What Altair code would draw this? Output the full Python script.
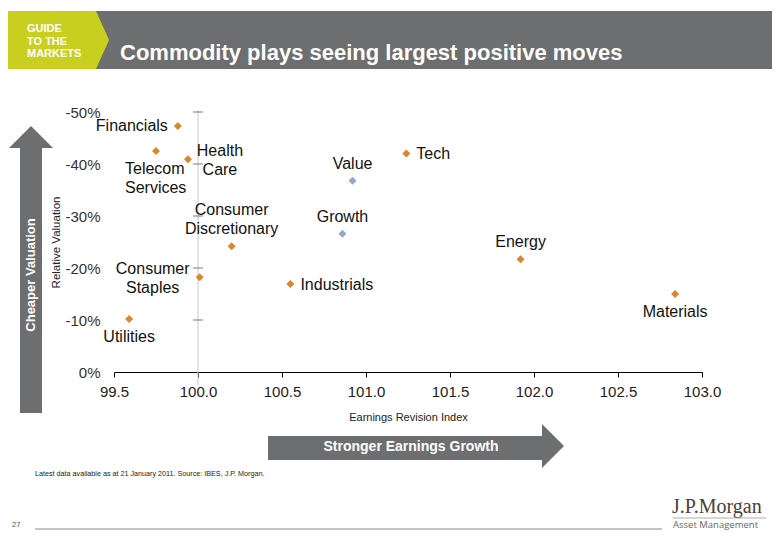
import altair as alt
import pandas as pd

# ---------------- data ----------------
names = ["Financials", "Telecom Services", "Health Care", "Consumer Discretionary",
         "Consumer Staples", "Utilities", "Value", "Growth", "Tech", "Industrials",
         "Energy", "Materials"]
labels = ["Financials", "Telecom\nServices", "Health\nCare", "Consumer\nDiscretionary",
          "Consumer\nStaples", "Utilities", "Value", "Growth", "Tech", "Industrials",
          "Energy", "Materials"]
earnings_revision = [99.88, 99.75, 99.94, 100.20, 100.01, 99.59, 100.92, 100.86,
                     101.24, 100.55, 101.92, 102.84]
relative_valuation = [-47.3, -42.5, -40.9, -24.2, -18.2, -10.2, -36.8, -26.6,
                      -42.0, -16.9, -21.7, -15.0]
groups = ["Sector"] * 6 + ["Style"] * 2 + ["Sector"] * 4
x_ticks = [99.5, 100.0, 100.5, 101.0, 101.5, 102.0, 102.5, 103.0]
y_ticks = [-50, -40, -30, -20, -10, 0]
cross_ticks = [-50, -40, -30, -20, -10]

title_text = "Commodity plays seeing largest positive moves"
footnote = "Latest data available as at 21 January 2011. Source: IBES, J.P. Morgan."

df = pd.DataFrame({"name": names, "label": labels, "x": earnings_revision,
                   "y": relative_valuation, "group": groups})
ticks_df = pd.DataFrame({"x": [100.0] * len(cross_ticks), "y": cross_ticks})

# label placement (dx, dy of first line, align)
placement = {
    "Financials": (-10, 0, "right"),
    "Telecom Services": (-31, 18, "left"),
    "Health Care": (32, -8, "center"),
    "Consumer Discretionary": (0, -36, "center"),
    "Consumer Staples": (-47, -8, "center"),
    "Utilities": (0, 18, "center"),
    "Value": (0, -17, "center"),
    "Growth": (0, -17, "center"),
    "Tech": (10, 0, "left"),
    "Industrials": (10, 1, "left"),
    "Energy": (0, -17, "center"),
    "Materials": (0, 18, "center"),
}

FONT = "Liberation Sans"
GRAY = "#6d6e70"
ORANGE = "#d8872b"
BLUE = "#8ea9cb"

xscale = alt.Scale(domain=[99.5, 103.0], nice=False, zero=False)
yscale = alt.Scale(domain=[-50, 0], nice=False, zero=False, reverse=True)

xaxis = alt.Axis(values=x_ticks, format=".1f", labelFontSize=15, labelColor="#222",
                 labelFont=FONT, domainColor="#000", tickColor="#000", tickSize=5,
                 labelPadding=7, labelFlush=False, grid=False, title="Earnings Revision Index",
                 titleFont=FONT, titleFontSize=11, titleFontWeight="normal",
                 titleColor="#222", titlePadding=12)
yaxis = alt.Axis(values=y_ticks, labelExpr="datum.value + '%'", labelFontSize=15,
                 labelColor="#333", labelFont=FONT, domain=False, ticks=False,
                 labelPadding=14, labelFlush=False, grid=False, title="Relative Valuation",
                 titleFont=FONT, titleFontSize=11.5, titleFontWeight="normal",
                 titleColor="#222", titlePadding=3)
xenc = alt.X("x:Q", scale=xscale, axis=xaxis)
yenc = alt.Y("y:Q", scale=yscale, axis=yaxis)

base = alt.Chart(df)

points = base.mark_point(shape="diamond", filled=True, size=64, opacity=1).encode(
    x=xenc, y=yenc,
    color=alt.Color("group:N", scale=alt.Scale(domain=["Sector", "Style"], range=[ORANGE, BLUE]),
                    legend=None),
)

text_layers = []
for nm, (dx, dy, al) in placement.items():
    t = base.transform_filter(alt.datum.name == nm).mark_text(
        dx=dx, dy=dy, align=al, baseline="middle", fontSize=16, font=FONT,
        color="#111", lineBreak="\n", lineHeight=18.5
    ).encode(x=xenc, y=yenc, text="label:N")
    text_layers.append(t)

vline = alt.Chart(ticks_df).transform_filter(alt.datum.y == -50).mark_rule(
    color="#c8c8c8", strokeWidth=1).encode(x=xenc, y=alt.value(-2), y2=alt.value(273))

cross = alt.Chart(ticks_df).mark_tick(orient="horizontal", size=10, thickness=1, color="#444").encode(
    x=xenc, y=yenc)

one = alt.Data(values=[{}])

# header (chart coords = page coords - (114, 112))
header_bg = alt.Chart(one).mark_rect(color=GRAY).encode(
    x=alt.value(-114), x2=alt.value(670), y=alt.value(-101), y2=alt.value(-43))
header_y = alt.Chart(one).mark_rect(color="#c9cf1e").encode(
    x=alt.value(-114), x2=alt.value(-18), y=alt.value(-101), y2=alt.value(-43))
header_tip = alt.Chart(one).mark_point(shape="M0,-1L0.45,0L0,1Z", filled=True, size=3364,
                                       color="#c9cf1e", opacity=1, strokeWidth=0).encode(
    x=alt.value(-18), y=alt.value(-72))
guide = alt.Chart(one).mark_text(text="GUIDE\nTO THE\nMARKETS", lineBreak="\n", align="left",
                                 baseline="middle", font=FONT, fontWeight="bold", fontSize=11,
                                 lineHeight=12.5, color="white").encode(
    x=alt.value(-87), y=alt.value(-83))
title = alt.Chart(one).mark_text(text=title_text, align="left", baseline="middle", font=FONT,
                                 fontWeight="bold", fontSize=22, color="white").encode(
    x=alt.value(6), y=alt.value(-59))

# left arrow
l_shaft = alt.Chart(one).mark_rect(color=GRAY).encode(
    x=alt.value(-94), x2=alt.value(-72), y=alt.value(36), y2=alt.value(301))
l_head = alt.Chart(one).mark_point(shape="M0,-0.5L1,0.5L-1,0.5Z", filled=True, size=1936,
                                   color=GRAY, opacity=1, strokeWidth=0).encode(
    x=alt.value(-83), y=alt.value(25))
l_text = alt.Chart(one).mark_text(text="Cheaper Valuation", angle=270, align="center",
                                  baseline="middle", font=FONT, fontWeight="bold", fontSize=13,
                                  color="white").encode(x=alt.value(-83), y=alt.value(163))

# bottom arrow
b_shaft = alt.Chart(one).mark_rect(color=GRAY).encode(
    x=alt.value(154), x2=alt.value(428), y=alt.value(324), y2=alt.value(348))
b_head = alt.Chart(one).mark_point(shape="M-0.5,-1L0.5,0L-0.5,1Z", filled=True, size=1936,
                                   color=GRAY, opacity=1, strokeWidth=0).encode(
    x=alt.value(439), y=alt.value(334))
b_text = alt.Chart(one).mark_text(text="Stronger Earnings Growth", align="center",
                                  baseline="middle", font=FONT, fontWeight="bold", fontSize=14,
                                  color="white").encode(x=alt.value(297), y=alt.value(335))

# footer
foot = alt.Chart(one).mark_text(text=footnote, align="left", baseline="middle", font=FONT,
                                fontSize=7.2, color="#222").encode(x=alt.value(-79), y=alt.value(362))
page = alt.Chart(one).mark_text(text="27", align="left", baseline="middle", font=FONT,
                                fontSize=7.5, color="#555").encode(x=alt.value(-102), y=alt.value(413))
foot_line = alt.Chart(one).mark_rule(color="#888", strokeWidth=1).encode(
    x=alt.value(-79), x2=alt.value(548), y=alt.value(417))
logo = alt.Chart(one).mark_text(text="J.P.Morgan", align="left", baseline="alphabetic",
                                font="Liberation Serif", fontSize=20, color="#4b4139").encode(
    x=alt.value(558), y=alt.value(401))
logo_line = alt.Chart(one).mark_rule(color="#999", strokeWidth=0.8).encode(
    x=alt.value(559), x2=alt.value(652), y=alt.value(406))
asset = alt.Chart(one).mark_text(text="Asset Management", align="left", baseline="middle",
                                 font="Open Sans", fontSize=9.5, color="#666").encode(
    x=alt.value(559), y=alt.value(413))

chart = alt.layer(
    header_bg, header_y, header_tip, guide, title,
    l_shaft, l_head, l_text, b_shaft, b_head, b_text,
    foot, page, foot_line, logo, logo_line, asset,
    vline, cross, points, *text_layers
).properties(
    width=588, height=260,
    padding={"left": 106, "top": 104, "right": 70, "bottom": 160},
    autosize=alt.AutoSizeParams(type="none"),
    background="white",
).configure_view(stroke=None)

chart.save("out.html", embed_options={"renderer": "svg", "actions": False})
